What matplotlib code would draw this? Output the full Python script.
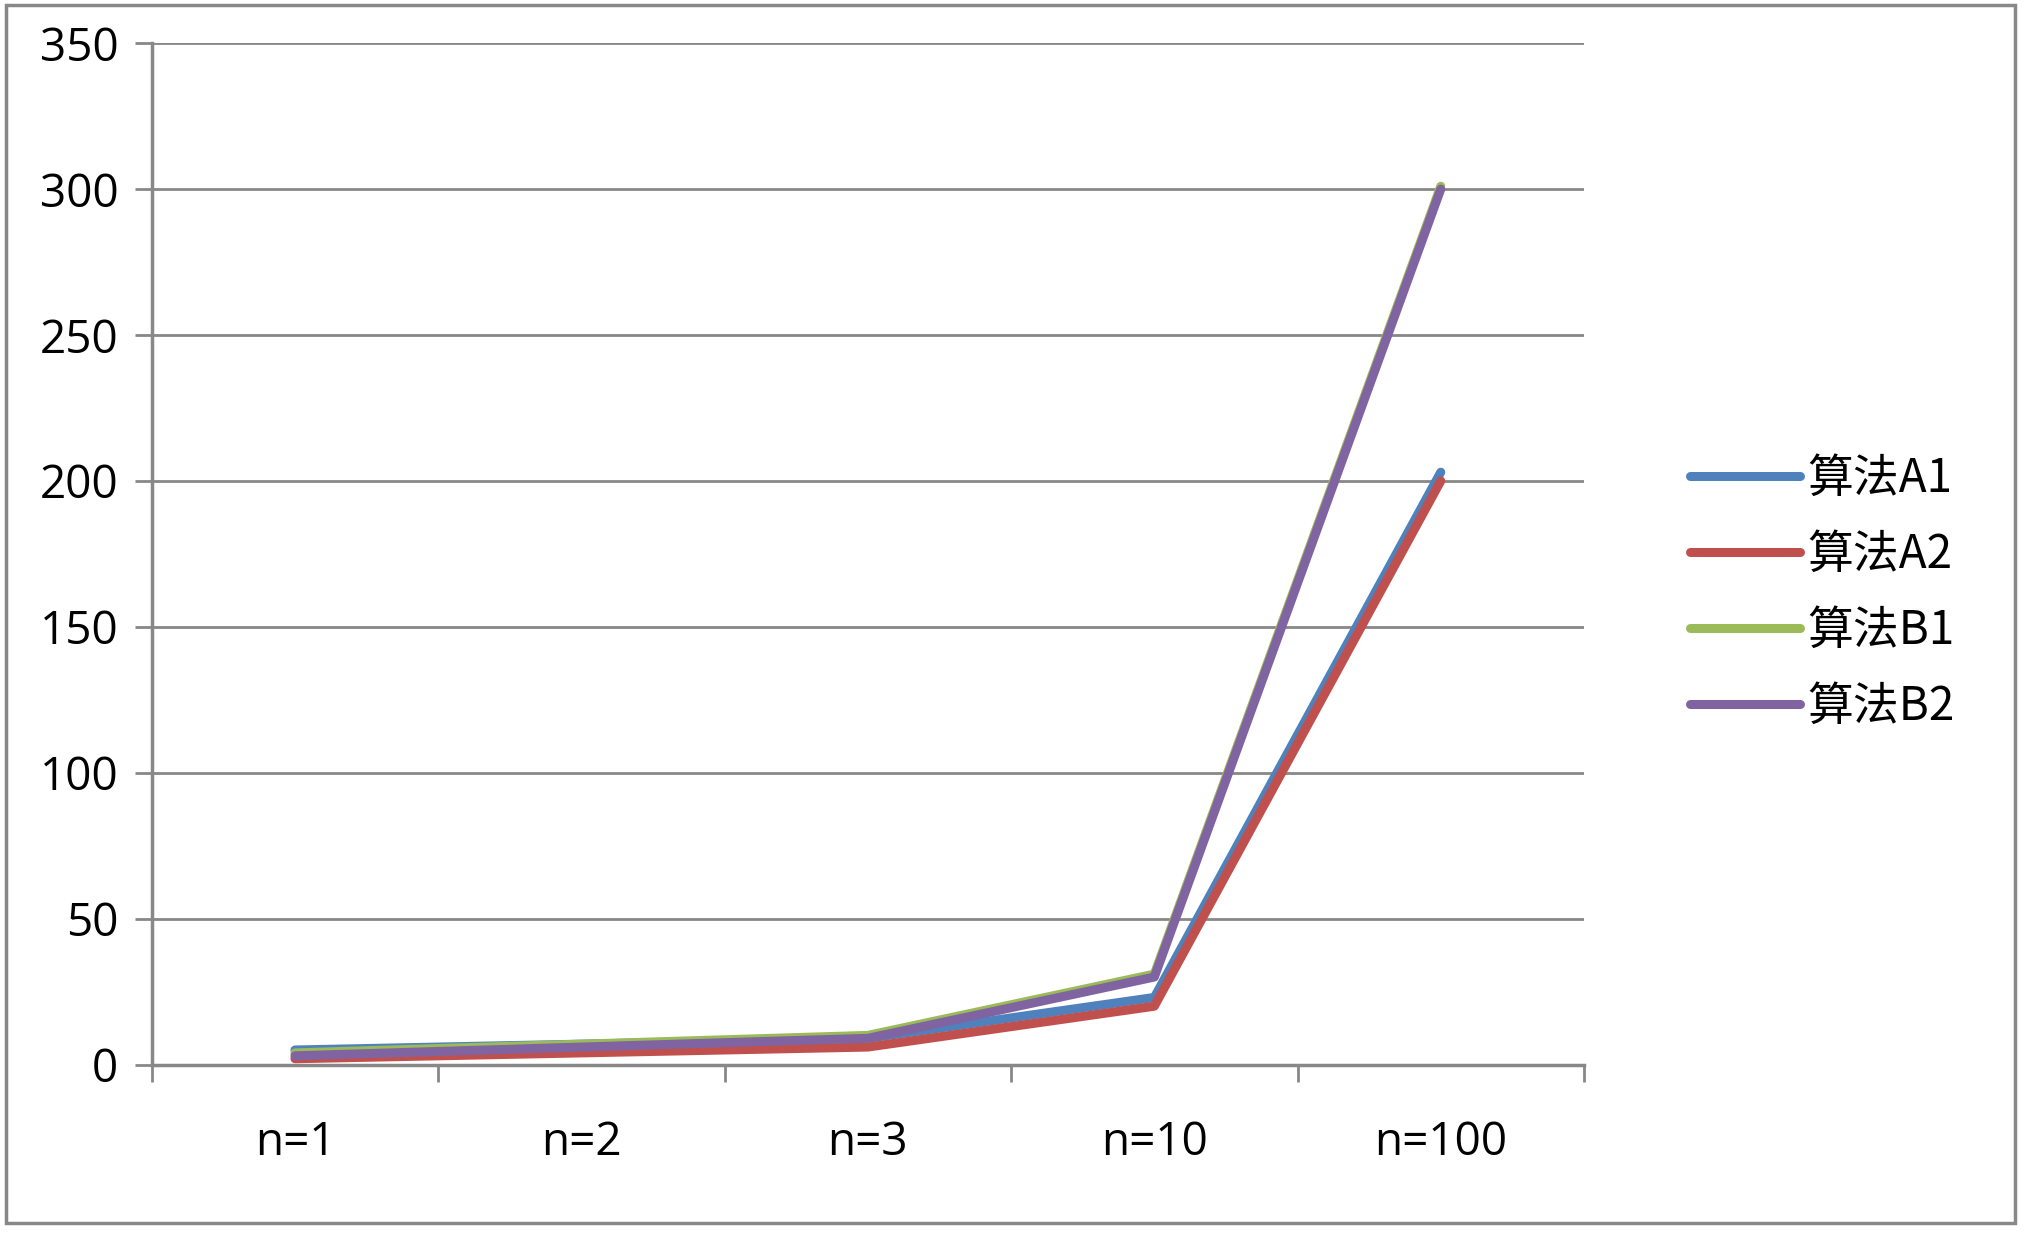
import matplotlib
matplotlib.use("Agg")
import matplotlib.pyplot as plt
from matplotlib.patches import Rectangle

plt.rcParams['font.family'] = ['Noto Sans CJK SC', 'DejaVu Sans']

categories = ["n=1", "n=2", "n=3", "n=10", "n=100"]
series_names = ["算法A1", "算法A2", "算法B1", "算法B2"]
a1 = [5, 7, 9, 23, 203]
a2 = [2, 4, 6, 20, 200]
b1 = [4, 7, 10, 31, 301]
b2 = [3, 6, 9, 30, 300]
colors = ["#4F81BD", "#C0504D", "#9BBB59", "#8064A2"]

fig = plt.figure(figsize=(20.23, 12.35), dpi=100)
fig.patches.append(Rectangle((0.003, 0.01), 0.993, 0.986, transform=fig.transFigure,
                             fill=False, edgecolor="#888888", linewidth=2.5))
ax = fig.add_axes([0.075, 0.138, 0.708, 0.827])
x = list(range(len(categories)))
for vals, name, c in zip([a1, a2, b1, b2], series_names, colors):
    ax.plot(x, vals, color=c, linewidth=6.5, label=name, solid_capstyle='round')

ax.set_xlim(-0.5, len(categories) - 0.5)
ax.set_ylim(0, 350)
ax.set_yticks(range(0, 351, 50))
ax.yaxis.grid(True, color="#888888", linewidth=2)
ax.set_axisbelow(True)
ax.set_xticks(x)
ax.set_xticklabels(categories, fontsize=33, fontfamily=['Open Sans', 'DejaVu Sans'])
for t in ax.get_yticklabels():
    t.set_fontsize(33)
    t.set_fontfamily(['Open Sans', 'DejaVu Sans'])
ax.set_xticks([i - 0.5 for i in range(len(categories) + 1)], minor=True)
ax.tick_params(axis='x', which='major', length=0, pad=40)
ax.tick_params(axis='x', which='minor', length=12, width=2, color="#888888")
ax.tick_params(axis='y', length=12, width=2, color="#888888", pad=12)
for s in ["top", "right"]:
    ax.spines[s].set_visible(False)
for s in ["left", "bottom"]:
    ax.spines[s].set_color("#888888")
    ax.spines[s].set_linewidth(2.5)

leg = fig.legend(loc="center left", bbox_to_anchor=(0.815, 0.52), frameon=False,
                 fontsize=33, handlelength=2.4, labelspacing=0.6, handletextpad=0.15)
for line in leg.get_lines():
    line.set_linewidth(6.5)
fig.savefig("out.png", dpi=100)
